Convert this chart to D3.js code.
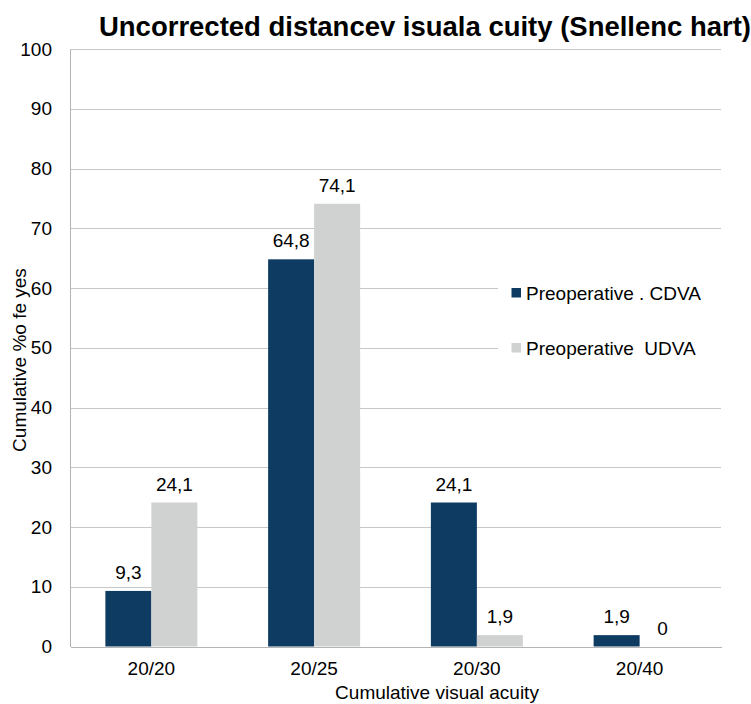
<!DOCTYPE html>
<html><head><meta charset="utf-8">
<script src="https://cdn.jsdelivr.net/npm/d3@7"></script>
<style>body{margin:0;background:#fff}svg{display:block}text{font-family:"Liberation Sans",Arial,sans-serif;fill:#000;white-space:pre}</style>
</head><body>
<svg id="c" width="751" height="704"></svg>
<script>
const categories = ["20/20","20/25","20/30","20/40"];
const seriesNames = ["Preoperative . CDVA","Preoperative  UDVA"];
const cdva = [9.3, 64.8, 24.1, 1.9];
const udva = [24.1, 74.1, 1.9, 0];
const yTicks = [0,10,20,30,40,50,60,70,80,90,100];
const colors = ["#0e3b62","#d0d1d1"];
const fmt = v => String(v).replace(".", ",");

const svg = d3.select("#c");
const m = {l:70, r:721, t:49, b:646.5};
const x = d3.scaleBand().domain(categories).range([m.l, m.r]);
const y = d3.scaleLinear().domain([0,100]).range([m.b, m.t]);
const FS = "19px";

// gridlines
svg.append("g").selectAll("line").data(yTicks.filter(d=>d>0)).join("line")
  .attr("x1", m.l).attr("x2", m.r).attr("y1", d=>Math.round(y(d))+0.5).attr("y2", d=>Math.round(y(d))+0.5)
  .attr("stroke","#c8c8c8").attr("stroke-width",1);

// y axis
const ya = svg.append("g").attr("transform",`translate(${m.l},0)`)
  .call(d3.axisLeft(y).tickValues(yTicks).tickSize(0).tickPadding(18));
ya.select(".domain").attr("stroke","#b4b4b4").attr("shape-rendering","crispEdges");
ya.selectAll("text").style("font-size",FS).attr("font-family",null);

// bars
const bw = 46;
const series = [cdva, udva];
series.forEach((vals, si) => {
  svg.append("g").selectAll("rect").data(vals).join("rect")
    .attr("x", (d,i) => x(categories[i]) + x.bandwidth()/2 - bw + si*bw)
    .attr("width", bw)
    .attr("y", d => y(d))
    .attr("height", d => y(0) - y(d))
    .attr("fill", colors[si]);
  svg.append("g").selectAll("text").data(vals).join("text")
    .attr("x", (d,i) => x(categories[i]) + x.bandwidth()/2 - bw/2 + si*bw)
    .attr("y", d => y(d) - 12)
    .attr("text-anchor","middle").style("font-size",FS)
    .text(d => fmt(d));
});

// x axis
const xa = svg.append("g").attr("transform",`translate(0,${m.b})`)
  .call(d3.axisBottom(x).tickSize(0).tickPadding(15));
xa.select(".domain").attr("stroke","#b4b4b4").attr("shape-rendering","crispEdges");
xa.selectAll("text").style("font-size",FS).attr("font-family",null);

// legend (white background hides grid)
const lg = svg.append("g");
lg.append("rect").attr("x",498).attr("y",262).attr("width",223).attr("height",112).attr("fill","#fff");
seriesNames.forEach((n,i) => {
  const base = 300 + i*55;
  lg.append("rect").attr("x",511.5).attr("y",base-12).attr("width",9.5).attr("height",9.5).attr("fill",colors[i]);
  lg.append("text").attr("x",526).attr("y",base).style("font-size",FS).text(n);
});

// title
svg.append("text").attr("x",425).attr("y",36).attr("text-anchor","middle")
  .attr("textLength",652).attr("lengthAdjust","spacingAndGlyphs")
  .style("font-size","27px").style("font-weight","bold").text("Uncorrected distancev isuala cuity (Snellenc hart)");

// axis titles
svg.append("text").attr("x",437).attr("y",699).attr("text-anchor","middle").style("font-size",FS).text("Cumulative visual acuity");
svg.append("text").attr("transform","translate(25.5,360) rotate(-90)").attr("text-anchor","middle").style("font-size",FS).text("Cumulative %o fe yes");
</script>
</body></html>
